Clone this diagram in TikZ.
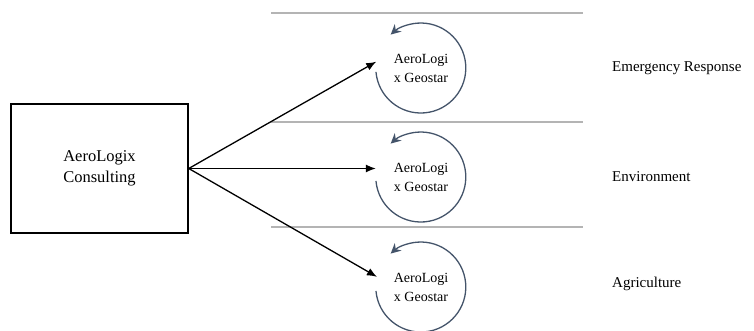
\documentclass[tikz,border=0pt]{standalone}
\usepackage{fontspec}
\setmainfont{Liberation Serif}
\usetikzlibrary{arrows.meta}
\definecolor{ringblue}{HTML}{44546A}
\definecolor{bandgray}{HTML}{B4B4B4}
\tikzset{
  x=1pt, y=1pt,
  firmbox/.style={draw=black, line width=1.5pt, minimum width=177pt, minimum height=129pt,
    inner sep=0pt, align=center, font=\fontsize{16.5}{21}\selectfont},
  cycle/.style={circle, minimum size=90pt, inner sep=0pt, align=center,
    font=\fontsize{14}{19}\selectfont},
  ring/.style={draw=ringblue, line width=1.3pt, -{Stealth[length=10pt,width=10pt]}},
  feed/.style={draw=black, line width=1.3pt, -{Latex[length=10pt,width=8pt]}},
  band/.style={draw=bandgray, line width=1.6pt},
  sector/.style={anchor=west, inner sep=0pt, font=\fontsize{15}{18}\selectfont}
}
\begin{document}
\begin{tikzpicture}
\useasboundingbox (0,0) rectangle (754,331);

% separators between the three sectors
\coordinate (s1a) at (271,318); \coordinate (s1b) at (583,318);
\coordinate (s2a) at (271,209); \coordinate (s2b) at (583,209);
\coordinate (s3a) at (271,104); \coordinate (s3b) at (583,104);
\draw[band] (s1a) -- (s1b);
\draw[band] (s2a) -- (s2b);
\draw[band] (s3a) -- (s3b);

% consulting firm
\node[firmbox] (firm) at (99.5,162.5) {AeroLogix\\Consulting};

% service cycles
\node[cycle] (c1) at (421,263) {AeroLogi\\x Geostar};
\node[cycle] (c2) at (421,154) {AeroLogi\\x Geostar};
\node[cycle] (c3) at (421,44) {AeroLogi\\x Geostar};

\foreach \c in {c1,c2,c3}{
  \draw[ring] (\c.185) arc[start angle=185, end angle=492, radius=45pt];
}

% sector labels
\node[sector] (l1) at (612,263) {Emergency Response};
\node[sector] (l2) at (612,154) {Environment};
\node[sector] (l3) at (612,47) {Agriculture};

% links from the firm to each cycle
\draw[feed] (firm.east) -- (c1.172);
\draw[feed] (firm.east) -- (firm.east -| c2.west);
\draw[feed] (firm.east) -- (c3.167);
\end{tikzpicture}
\end{document}
